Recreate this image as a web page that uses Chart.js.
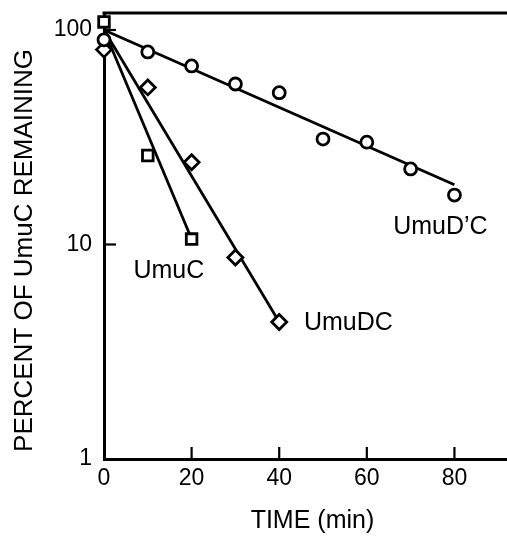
<!DOCTYPE html>
<html>
<head>
<meta charset="utf-8">
<script src="https://cdn.jsdelivr.net/npm/chart.js@4.4.1/dist/chart.umd.min.js"></script>
<style>
  html, body { margin: 0; padding: 0; background: #fff; overflow: hidden; }
  #wrap { width: 507px; height: 536px; }
  #decayChart { display: block; }
</style>
</head>
<body>
<div id="wrap"><canvas id="decayChart" width="507" height="536"></canvas></div>
<script>
// measured points (percent of UmuC remaining vs time in min)
const timeUmuDpC = [0, 10, 20, 30, 40, 50, 60, 70, 80];
const valUmuDpC = [90, 79, 68, 56, 51, 31, 30, 22.5, 17];
const timeUmuC = [0, 10, 20];
const valUmuC = [109, 26, 10.6];
const timeUmuDC = [0, 10, 20, 30, 40];
const valUmuDC = [81, 54, 24.2, 8.7, 4.35];

// fitted decay lines (start and end)
const fitUmuDpCTime = [0, 80];
const fitUmuDpCVal = [100, 19];
const fitUmuCTime = [0, 20];
const fitUmuCVal = [100, 10.6];
const fitUmuDCTime = [0, 40];
const fitUmuDCVal = [100, 4.35];

// curve names, anchored in data units
const curveNames = ['UmuC', 'UmuDC', 'UmuD\u2019C'];
const curveNameX = [14.8, 55.8, 76.8];
const curveNameY = [7.5, 4.3, 12.1];

const xTicks = [0, 20, 40, 60, 80];
const yTicks = [1, 10, 100];
const xInnerTicks = [20, 40, 60, 80];
const yInnerTicks = [10, 100];

const FONT = "'Liberation Sans', Arial, Helvetica, sans-serif";

function pts(xs, ys) {
    return xs.map((x, i) => ({ x: x, y: ys[i] }));
}

function markerSet(label, xs, ys, style, radius) {
    return {
        label: label,
        data: pts(xs, ys),
        showLine: false,
        clip: false,
        pointStyle: style,
        pointRadius: radius,
        pointBackgroundColor: '#fff',
        pointBorderColor: '#000',
        pointBorderWidth: 2.8,
        order: 0
    };
}

function fitSet(label, xs, ys) {
    return {
        label: label,
        data: pts(xs, ys),
        showLine: true,
        clip: false,
        borderColor: '#000',
        borderWidth: 2.8,
        pointRadius: 0,
        order: 1
    };
}

// frame top line, inward tick marks and curve names
const framePlugin = {
    id: 'framePlugin',
    afterDraw(chart) {
        const ctx = chart.ctx;
        const area = chart.chartArea;
        const xs = chart.scales.x;
        const ys = chart.scales.y;
        ctx.save();
        ctx.strokeStyle = '#000';
        ctx.lineWidth = 3;
        ctx.beginPath();
        ctx.moveTo(area.left - 1.5, area.top);
        ctx.lineTo(area.right, area.top);
        ctx.stroke();

        ctx.lineWidth = 2.2;
        xInnerTicks.forEach(v => {
            const px = xs.getPixelForValue(v);
            ctx.beginPath();
            ctx.moveTo(px, area.bottom);
            ctx.lineTo(px, area.bottom - 12);
            ctx.stroke();
        });
        yInnerTicks.forEach(v => {
            const py = ys.getPixelForValue(v);
            ctx.beginPath();
            ctx.moveTo(area.left, py);
            ctx.lineTo(area.left + 12, py);
            ctx.stroke();
        });

        ctx.fillStyle = '#000';
        ctx.font = '25px ' + FONT;
        ctx.textAlign = 'center';
        ctx.textBaseline = 'middle';
        curveNames.forEach((name, i) => {
            ctx.fillText(name, xs.getPixelForValue(curveNameX[i]), ys.getPixelForValue(curveNameY[i]));
        });
        ctx.restore();
    }
};

const decayCanvas = document.getElementById('decayChart');
if (decayCanvas) {
    const decayCtx = decayCanvas.getContext('2d');
    new Chart(decayCtx, {
        type: 'scatter',
        data: {
            datasets: [
                markerSet("UmuD'C", timeUmuDpC, valUmuDpC, 'circle', 6),
                markerSet('UmuC', timeUmuC, valUmuC, 'rect', 7.5),
                markerSet('UmuDC', timeUmuDC, valUmuDC, 'rectRot', 7.5),
                fitSet("UmuD'C fit", fitUmuDpCTime, fitUmuDpCVal),
                fitSet('UmuC fit', fitUmuCTime, fitUmuCVal),
                fitSet('UmuDC fit', fitUmuDCTime, fitUmuDCVal)
            ]
        },
        options: {
            responsive: false,
            animation: false,
            devicePixelRatio: 1,
            layout: { autoPadding: false, padding: { top: 13, left: 0, right: 0, bottom: 0 } },
            plugins: {
                legend: { display: false },
                tooltip: { enabled: false }
            },
            scales: {
                x: {
                    type: 'linear',
                    min: 0,
                    max: 92,
                    afterBuildTicks: scale => {
                        scale.ticks = xTicks.map(v => ({ value: v }));
                    },
                    afterFit: scale => {
                        scale.height = 77;
                        scale.paddingLeft = 0;
                        scale.paddingRight = 0;
                    },
                    grid: { display: false, drawTicks: false },
                    border: { display: true, color: '#000', width: 3 },
                    ticks: {
                        color: '#000',
                        padding: 6,
                        font: { family: FONT, size: 23 },
                        callback: v => String(v)
                    },
                    title: {
                        display: true,
                        text: '  TIME (min)',
                        color: '#000',
                        padding: 0,
                        font: { family: FONT, size: 25 }
                    }
                },
                y: {
                    type: 'logarithmic',
                    min: 1,
                    max: 120,
                    afterBuildTicks: scale => {
                        scale.ticks = yTicks.map(v => ({ value: v }));
                    },
                    afterFit: scale => {
                        scale.width = 104;
                        scale.paddingTop = 0;
                        scale.paddingBottom = 0;
                    },
                    grid: { display: false, drawTicks: false },
                    border: { display: true, color: '#000', width: 3 },
                    ticks: {
                        color: '#000',
                        padding: 12,
                        font: { family: FONT, size: 23 },
                        callback: v => String(v)
                    },
                    title: {
                        display: true,
                        text: 'PERCENT OF UmuC REMAINING    ',
                        color: '#000',
                        padding: 9,
                        font: { family: FONT, size: 26 }
                    }
                }
            }
        },
        plugins: [framePlugin]
    });
}
</script>
</body>
</html>
